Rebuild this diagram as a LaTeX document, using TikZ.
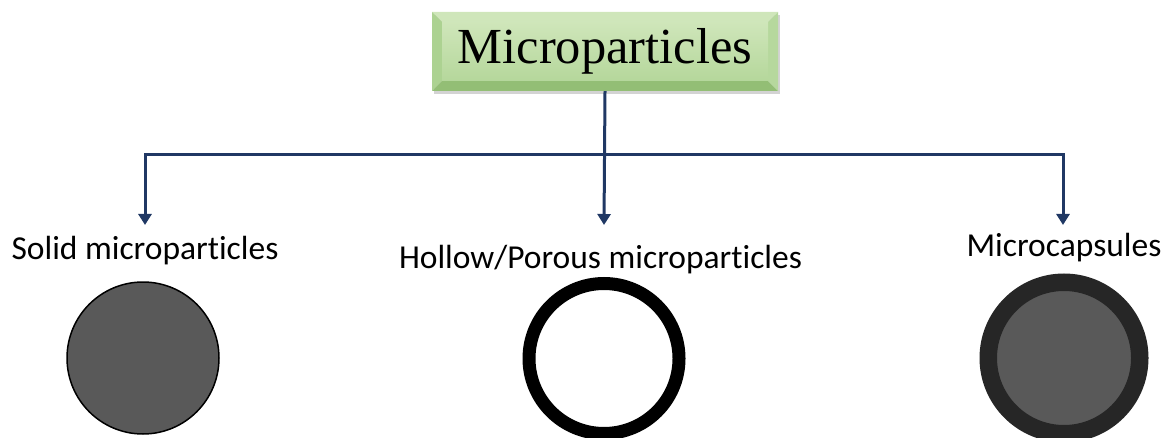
\documentclass[tikz,border=0pt]{standalone}
\usepackage{fontspec}
\usetikzlibrary{arrows.meta,positioning,calc,shadows}
\newfontfamily\labelfont[Ligatures=NoCommon]{Carlito}
\newfontfamily\titlefont{Liberation Serif}
\definecolor{navy}{HTML}{203864}
\definecolor{leaf}{HTML}{B5D79B}
\definecolor{leaftop}{HTML}{CFE6BA}
\definecolor{leafleft}{HTML}{ACD291}
\definecolor{leafbot}{HTML}{93BE75}
\definecolor{leafright}{HTML}{B6D89D}
\definecolor{core}{HTML}{595959}
\definecolor{shell}{HTML}{262626}
\newcommand{\Bev}{10pt}

\begin{document}
\begin{tikzpicture}[x=1pt, y=-1pt,
    title/.style={minimum width=346pt, minimum height=79pt, inner sep=0pt,
      font=\titlefont\fontsize{50.5}{56}\selectfont,
      drop shadow={opacity=0.35, shadow xshift=2pt, shadow yshift=-3pt},
      path picture={
        \coordinate (bl) at (path picture bounding box.south west);
        \coordinate (tr) at (path picture bounding box.north east);
        \coordinate (tl) at (path picture bounding box.north west);
        \coordinate (br) at (path picture bounding box.south east);
        \fill[leaftop] (tl) -- (tr) -- ($(tr)+(-\Bev,-\Bev)$) -- ($(tl)+(\Bev,-\Bev)$) -- cycle;
        \fill[leafleft] (tl) -- (bl) -- ($(bl)+(\Bev,\Bev)$) -- ($(tl)+(\Bev,-\Bev)$) -- cycle;
        \fill[leafbot] (bl) -- (br) -- ($(br)+(-\Bev,\Bev)$) -- ($(bl)+(\Bev,\Bev)$) -- cycle;
        \fill[leafright] (br) -- (tr) -- ($(tr)+(-\Bev,-\Bev)$) -- ($(br)+(-\Bev,\Bev)$) -- cycle;
        \shade[top color=leaftop, bottom color=leaf] ($(bl)+(\Bev,\Bev)$) rectangle ($(tr)+(-\Bev,-\Bev)$);
      }},
    kind/.style={font=\labelfont\fontsize{33.5}{40}\selectfont, anchor=base, inner sep=0pt},
    ball/.style={circle, inner sep=0pt},
    flow/.style={-{Triangle[width=13pt,length=11pt]}, line width=3pt, draw=navy},
  ]
\useasboundingbox (0,0) rectangle (1166,438);

% --- Title box ---------------------------------------------------------------
\node[title] (micro) at (605,51.5) {Microparticles};

% --- Branch points -----------------------------------------------------------
\coordinate (hub) at (604,155);
\foreach \n/\x in {solidtip/145, hollowtip/604, capsuletip/1063}
  \coordinate (\n) at (\x,225);

% --- Kinds -------------------------------------------------------------------
\node[kind] (solidlbl) at (145,259) {Solid microparticles};
\node[kind] (hollowlbl) at (600.5,268) {Hollow/Porous microparticles};
\node[kind] (capsulelbl) at (1064,257) {Microcapsules};

% --- Particles ---------------------------------------------------------------
\node[ball, minimum size=152pt, fill=core, draw=black, line width=1.5pt] (solid) at (143,358) {};
\node[ball, minimum size=150pt, fill=white, draw=black, line width=13pt] (hollow) at (604,358.5) {};
\node[ball, minimum size=151.5pt, fill=core, draw=shell, line width=17.5pt] (capsule) at (1064,358) {};

% --- Flow --------------------------------------------------------------------
\draw[flow] (micro.south) -- (hollowtip);
\draw[flow] (hub) -| (solidtip);
\draw[flow] (hub) -| (capsuletip);
\end{tikzpicture}
\end{document}
